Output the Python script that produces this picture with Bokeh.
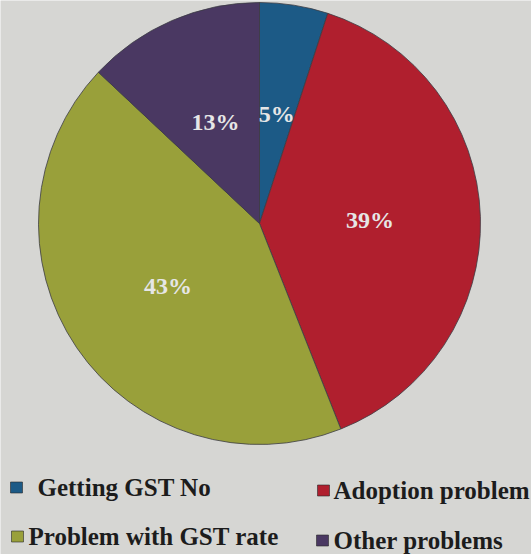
import math
from bokeh.plotting import figure
from bokeh.models import ColumnDataSource
from bokeh.core.properties import value
from bokeh.embed import file_html
from bokeh.resources import INLINE

categories = ["Getting GST No", "Adoption problem", "Problem with GST rate", "Other problems"]
shares = [5, 39, 43, 13]
colors = ["#1c5a86", "#b01f2e", "#99a03a", "#4a3862"]

W, H = 531, 554
cx, cy, R = 259, 554 - 223, 221
LABEL_SHIFT = 13   # px: text anchored at its bottom edge
LEGEND_SHIFT = 13

total = sum(shares)
starts, ends, lx, ly, labels = [], [], [], [], []
acc = 0
for s in shares:
    a0 = math.pi / 2 - acc / total * 2 * math.pi
    a1 = math.pi / 2 - (acc + s) / total * 2 * math.pi
    mid = (a0 + a1) / 2
    starts.append(a0)
    ends.append(a1)
    lx.append(cx + 0.5 * R * math.cos(mid))
    ly.append(cy + 0.5 * R * math.sin(mid) - LABEL_SHIFT)
    labels.append(f"{s}%")
    acc += s

src = ColumnDataSource(dict(start=starts, end=ends, color=colors,
                            lx=lx, ly=ly, label=labels))

p = figure(width=W, height=H, x_range=(0, W), y_range=(0, H),
           output_backend="svg", toolbar_location=None, min_border=0)
p.axis.visible = False
p.grid.visible = False
p.outline_line_color = None
p.background_fill_color = "#d6d6d3"
p.border_fill_color = "#d6d6d3"

p.wedge(x=cx, y=cy, radius=R, start_angle="start", end_angle="end",
        direction="clock", fill_color="color", line_color="#3c3c44",
        line_width=0.8, source=src)

p.text(x="lx", y="ly", text="label", source=src, text_color="#e6e6e6",
       text_font=value("Liberation Serif"), text_font_style="bold",
       text_font_size="24px", text_align="center")

# legend (2 x 2 grid)
leg_mx = [16, 323, 17, 322]
leg_tx = [37, 333, 28, 333]
leg_y = [554 - 487, 554 - 490, 554 - 536, 554 - 540]
leg_ty = [v - LEGEND_SHIFT for v in leg_y]
lsrc = ColumnDataSource(dict(mx=leg_mx, tx=leg_tx, y=leg_y, ty=leg_ty,
                             name=categories, color=colors))
p.rect(x="mx", y="y", width=12, height=11, width_units="screen",
       height_units="screen", fill_color="color", line_color="#2a2a2a",
       line_width=0.6, source=lsrc)
p.text(x="tx", y="ty", text="name", source=lsrc, text_color="#1c1c1c",
       text_font=value("Liberation Serif"), text_font_style="bold",
       text_font_size="25px")

open("out.html", "w").write(file_html(p, INLINE))
